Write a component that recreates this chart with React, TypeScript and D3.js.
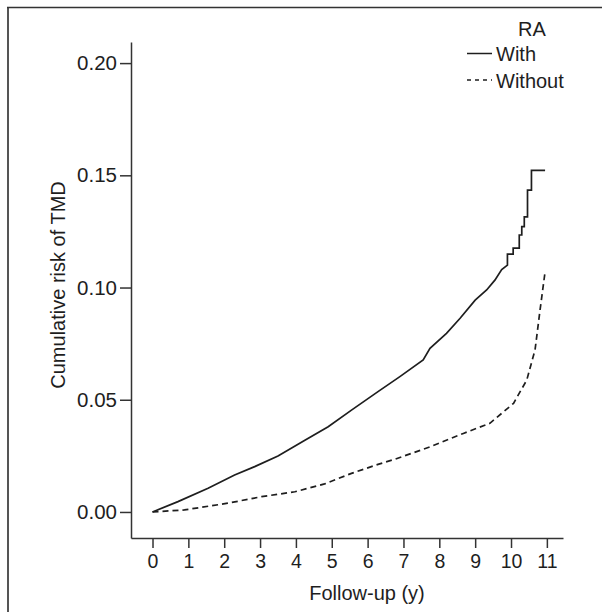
import { useEffect, useRef } from 'react';
import * as d3 from 'd3';

// "With RA" cumulative risk (years, value)
const withYears = [0, 0.71, 1.55, 2.29, 2.85, 3.5, 4.25, 4.9, 5.55, 6.29, 6.9, 7.55, 7.74, 8.2, 8.58, 9.0, 9.32, 9.55, 9.74, 9.9, 9.9, 10.06, 10.06, 10.23, 10.23, 10.3, 10.3, 10.37, 10.37, 10.46, 10.46, 10.57, 10.57, 10.95];
const withRisk = [0, 0.0046, 0.0106, 0.0165, 0.0202, 0.0249, 0.032, 0.038, 0.0454, 0.0536, 0.0603, 0.0677, 0.0729, 0.0796, 0.0863, 0.0944, 0.0989, 0.1033, 0.108, 0.11, 0.1149, 0.1149, 0.1176, 0.1176, 0.1234, 0.1234, 0.1271, 0.1271, 0.1315, 0.1315, 0.1434, 0.1434, 0.1522, 0.1522];

// "Without RA"
const withoutYears = [0, 0.89, 2.1, 3.04, 3.97, 4.8, 5.55, 6.29, 6.76, 7.74, 8.67, 9.41, 10.07, 10.44, 10.67, 10.81, 10.95];
const withoutRisk = [0, 0.0009, 0.0039, 0.0068, 0.009, 0.0125, 0.0172, 0.0212, 0.0235, 0.029, 0.035, 0.0395, 0.0484, 0.0588, 0.0722, 0.09, 0.107];

const xTicks = [0, 1, 2, 3, 4, 5, 6, 7, 8, 9, 10, 11];
const yTicks = [0, 0.05, 0.1, 0.15, 0.2];
const legendLabels = ['With', 'Without'];

const W = 602;
const H = 612;
const INK = '#1e1e1e';
const FONT = 'Liberation Sans, Arial, Helvetica, sans-serif';

export default function App() {
  const svgRef = useRef<SVGSVGElement>(null);

  useEffect(() => {
    const svg = d3.select(svgRef.current);
    svg.selectAll('*').remove();

    const x = d3.scaleLinear().domain([-0.6, 11.45]).range([131, 563]);
    const y = d3.scaleLinear().domain([-0.0116, 0.2094]).range([538, 42]);

    // frame (left and top edges only)
    svg.append('line').attr('x1', 8).attr('x2', 8).attr('y1', 7).attr('y2', H)
      .attr('stroke', '#555').attr('stroke-width', 2);
    svg.append('line').attr('x1', 7).attr('x2', W).attr('y1', 7.5).attr('y2', 7.5)
      .attr('stroke', '#333').attr('stroke-width', 1.5);

    // Y axis
    const yAxis = svg.append('g')
      .attr('transform', 'translate(131,0)')
      .call(d3.axisLeft(y).tickValues(yTicks).tickFormat(d3.format('.2f')).tickSize(11).tickSizeOuter(0).tickPadding(3));
    yAxis.selectAll('text').style('font-size', '20.5px').style('font-family', FONT).attr('fill', INK);

    // X axis
    const xAxis = svg.append('g')
      .attr('transform', 'translate(0,538)')
      .call(d3.axisBottom(x).tickValues(xTicks).tickFormat(d3.format('d')).tickSize(10).tickSizeOuter(0).tickPadding(6));
    xAxis.selectAll('text').style('font-size', '19.5px').style('font-family', FONT).attr('fill', INK);

    [yAxis, xAxis].forEach((g) => {
      g.select('.domain').attr('stroke', '#333').attr('stroke-width', 1.5);
      g.selectAll('.tick line').attr('stroke', '#333').attr('stroke-width', 1.5);
    });

    // axis titles
    svg.append('text')
      .attr('transform', 'translate(65,285) rotate(-90)')
      .attr('text-anchor', 'middle')
      .style('font-size', '20px').style('font-family', FONT).attr('fill', INK)
      .text('Cumulative risk of TMD');
    svg.append('text')
      .attr('x', 367).attr('y', 600)
      .attr('text-anchor', 'middle')
      .style('font-size', '20px').style('font-family', FONT).attr('fill', INK)
      .text('Follow-up (y)');

    // curves
    const line = d3.line<[number, number]>()
      .x((d) => x(d[0]))
      .y((d) => y(d[1]));

    const withData = withYears.map((t, i) => [t, withRisk[i]] as [number, number]);
    const withoutData = withoutYears.map((t, i) => [t, withoutRisk[i]] as [number, number]);

    svg.append('path').datum(withData)
      .attr('d', line).attr('fill', 'none')
      .attr('stroke', INK).attr('stroke-width', 1.7);
    svg.append('path').datum(withoutData)
      .attr('d', line).attr('fill', 'none')
      .attr('stroke', INK).attr('stroke-width', 1.7)
      .attr('stroke-dasharray', '6,4');

    // legend
    svg.append('text')
      .attr('x', 532).attr('y', 36)
      .attr('text-anchor', 'middle')
      .style('font-size', '20px').style('font-family', FONT).attr('fill', INK)
      .text('RA');

    const legend = svg.selectAll('g.legend-item')
      .data(legendLabels)
      .enter()
      .append('g')
      .attr('class', 'legend-item')
      .attr('transform', (d, i) => `translate(467, ${53.5 + i * 26.5})`);

    legend.append('line')
      .attr('x1', 0).attr('x2', 25)
      .attr('stroke', INK).attr('stroke-width', 1.5)
      .attr('stroke-dasharray', (d, i) => (i === 1 ? '4,4' : null));

    legend.append('text')
      .attr('x', 29).attr('y', 7.5)
      .style('font-size', '20px').style('font-family', FONT).attr('fill', INK)
      .text((d) => d);
  }, []);

  return (
    <svg
      ref={svgRef}
      width={W}
      height={H}
      style={{ position: 'absolute', left: 0, top: 0, background: '#fff' }}
    />
  );
}
